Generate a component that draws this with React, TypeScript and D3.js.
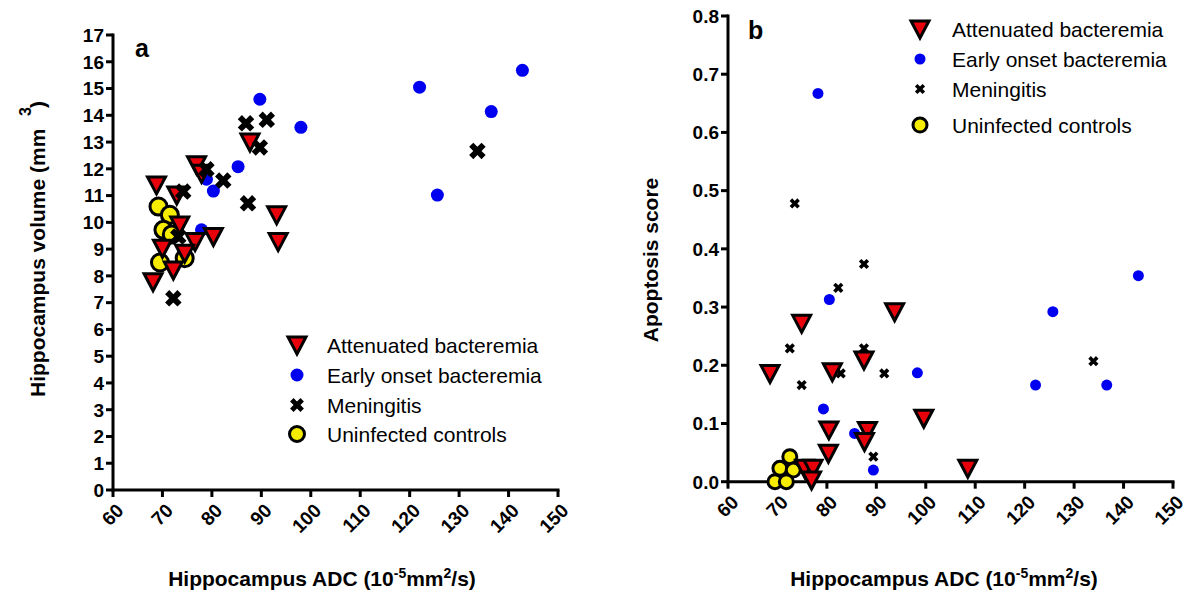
import React from "react";
import * as d3 from "d3";

// ---------- data ----------
type Pt = [number, number];

// Panel a: Hippocampus ADC vs volume
const aAttenuated: Pt[] = [
  [87.7, 13.0], [76.9, 12.15], [77.9, 11.83], [68.8, 11.4], [72.9, 11.02], [73.5, 9.9],
  [76.6, 9.28], [80.3, 9.47], [70.0, 9.03], [74.5, 8.85], [72.2, 8.22], [68.1, 7.78],
  [93.1, 10.28], [93.4, 9.28],
];
const aEarly: Pt[] = [
  [85.3, 12.08], [78.9, 11.61], [80.3, 11.17], [77.9, 9.72], [89.7, 14.6], [98.0, 13.55],
  [122.0, 15.05], [142.8, 15.68], [136.5, 14.14], [125.6, 11.02],
];
const aMeningitis: Pt[] = [
  [91.1, 13.83], [86.9, 13.7], [89.7, 12.8], [133.7, 12.67], [82.3, 11.56], [78.9, 11.98],
  [74.2, 11.15], [87.3, 10.71], [73.2, 9.47], [72.2, 7.16],
];
const aControls: Pt[] = [
  [69.2, 10.59], [71.5, 10.28], [70.2, 9.72], [71.9, 9.55], [69.5, 8.5], [74.5, 8.66],
];

// Panel b: Hippocampus ADC vs apoptosis score
const bAttenuated: Pt[] = [
  [74.9, 0.272], [93.7, 0.292], [68.5, 0.186], [81.1, 0.189], [87.5, 0.209], [80.4, 0.089],
  [80.3, 0.049], [88.2, 0.088], [87.6, 0.069], [99.6, 0.109], [75.5, 0.023], [77.2, 0.023],
  [76.9, 0.003], [108.5, 0.023],
];
const bEarly: Pt[] = [
  [78.2, 0.667], [80.5, 0.313], [98.3, 0.187], [79.3, 0.125], [85.6, 0.083], [89.4, 0.02],
  [125.7, 0.292], [143.0, 0.354], [122.2, 0.166], [136.6, 0.166],
];
const bMeningitis: Pt[] = [
  [73.5, 0.478], [82.3, 0.333], [87.5, 0.374], [72.5, 0.229], [74.9, 0.166], [82.8, 0.186],
  [87.5, 0.229], [91.6, 0.186], [89.4, 0.043], [133.9, 0.207],
];
const bControls: Pt[] = [
  [72.5, 0.043], [70.5, 0.023], [73.2, 0.02], [69.5, 0.0], [71.8, 0.0],
];

const xTicks = [60, 70, 80, 90, 100, 110, 120, 130, 140, 150];
const aYTicks = d3.range(0, 18);
const bYTicks = [0, 0.1, 0.2, 0.3, 0.4, 0.5, 0.6, 0.7, 0.8];
const legendLabels = ["Attenuated bacteremia", "Early onset bacteremia", "Meningitis", "Uninfected controls"];

const FONT = "'Liberation Sans', Arial, Helvetica, sans-serif";

// ---------- markers ----------
function Tri({ x, y, s = 1 }: { x: number; y: number; s?: number }) {
  const w = 9 * s, h = 8 * s;
  const d = `M${x - w},${y - h}L${x + w},${y - h}L${x},${y + h + 1}Z`;
  return <path d={d} fill="#e8000b" stroke="#000" strokeWidth={3} strokeLinejoin="miter" />;
}
function Dot({ x, y, r }: { x: number; y: number; r: number }) {
  return <circle cx={x} cy={y} r={r} fill="#0000f0" />;
}
function Cross({ x, y, size }: { x: number; y: number; size: number }) {
  const d = d3.symbol(d3.symbolCross, size)() as string;
  return <path d={d} transform={`translate(${x},${y}) rotate(45)`} fill="#000" />;
}
function Ctrl({ x, y, r }: { x: number; y: number; r: number }) {
  return <circle cx={x} cy={y} r={r} fill="#f5ec00" stroke="#000" strokeWidth={3} />;
}

interface PanelProps {
  x0: number; x1: number; y0: number; y1: number;
  yDomain: [number, number]; yTicks: number[]; yFmt: (v: number) => string;
  att: Pt[]; early: Pt[]; men: Pt[]; ctrl: Pt[];
  dotR: number; crossSize: number; ctrlR: number;
}

function Panel(p: PanelProps) {
  const xs = d3.scaleLinear().domain([60, 150]).range([p.x0, p.x1]);
  const ys = d3.scaleLinear().domain(p.yDomain).range([p.y0, p.y1]);
  return (
    <g>
      {/* axes */}
      <line x1={p.x0} x2={p.x1 + 1.5} y1={p.y0} y2={p.y0} stroke="#000" strokeWidth={3} />
      <line x1={p.x0} x2={p.x0} y1={p.y0 + 1.5} y2={p.y1 - 1.5} stroke="#000" strokeWidth={3} />
      {xTicks.map((t) => (
        <g key={"xt" + t}>
          <line x1={xs(t)} x2={xs(t)} y1={p.y0} y2={p.y0 + 7} stroke="#000" strokeWidth={3} />
          <text
            transform={`translate(${xs(t) + 7},${p.y0 + 17}) rotate(-45)`}
            textAnchor="end"
            dy="0.35em"
            fontSize={19}
            fontWeight="bold"
            fontFamily={FONT}
          >
            {t}
          </text>
        </g>
      ))}
      {p.yTicks.map((t) => (
        <g key={"yt" + t}>
          <line x1={p.x0 - 7} x2={p.x0} y1={ys(t)} y2={ys(t)} stroke="#000" strokeWidth={3} />
          <text x={p.x0 - 9} y={ys(t)} dy="0.36em" textAnchor="end" fontSize={19} fontWeight="bold" fontFamily={FONT}>
            {p.yFmt(t)}
          </text>
        </g>
      ))}
      {/* data */}
      {p.ctrl.map((d, i) => <Ctrl key={"c" + i} x={xs(d[0])} y={ys(d[1])} r={p.ctrlR} />)}
      {p.early.map((d, i) => <Dot key={"e" + i} x={xs(d[0])} y={ys(d[1])} r={p.dotR} />)}
      {p.att.map((d, i) => <Tri key={"a" + i} x={xs(d[0])} y={ys(d[1])} />)}
      {p.men.map((d, i) => <Cross key={"m" + i} x={xs(d[0])} y={ys(d[1])} size={p.crossSize} />)}
    </g>
  );
}

function Legend({ mx, tx, rows, dotR, crossSize, ctrlR }: { mx: number; tx: number; rows: number[]; dotR: number; crossSize: number; ctrlR: number }) {
  return (
    <g fontFamily={FONT} fontSize={21}>
      <Tri x={mx} y={rows[0]} />
      <Dot x={mx} y={rows[1]} r={dotR} />
      <Cross x={mx} y={rows[2]} size={crossSize} />
      <Ctrl x={mx} y={rows[3]} r={ctrlR} />
      {legendLabels.map((l, i) => (
        <text key={l} x={tx} y={rows[i]} dy="0.36em">{l}</text>
      ))}
    </g>
  );
}

function XTitle({ cx, y }: { cx: number; y: number }) {
  return (
    <text x={cx} y={y} textAnchor="middle" fontSize={21} fontWeight="bold" fontFamily={FONT}>
      Hippocampus ADC (10
      <tspan dy={-8} fontSize={14}>-5</tspan>
      <tspan dy={8}>mm</tspan>
      <tspan dy={-8} fontSize={14}>2</tspan>
      <tspan dy={8}>/s)</tspan>
    </text>
  );
}

export default function App() {
  return (
    <svg width={1200} height={602} style={{ position: "absolute", left: 0, top: 0, background: "#fff" }}>
      <rect width={1200} height={602} fill="#fff" />
      <Panel
        x0={113} x1={558} y0={490} y1={35}
        yDomain={[0, 17]} yTicks={aYTicks} yFmt={(v) => String(v)}
        att={aAttenuated} early={aEarly} men={aMeningitis} ctrl={aControls}
        dotR={6.5} crossSize={170} ctrlR={8.5}
      />
      <Panel
        x0={728} x1={1173} y0={481.7} y1={16}
        yDomain={[0, 0.8]} yTicks={bYTicks} yFmt={(v) => v.toFixed(1)}
        att={bAttenuated} early={bEarly} men={bMeningitis} ctrl={bControls}
        dotR={5.5} crossSize={65} ctrlR={7}
      />
      {/* panel labels */}
      <text x={135} y={57} fontSize={25} fontWeight="bold" fontFamily={FONT}>a</text>
      <text x={748} y={39} fontSize={25} fontWeight="bold" fontFamily={FONT}>b</text>
      {/* legends */}
      <Legend mx={297} tx={327} rows={[345, 375, 405, 434]} dotR={6.5} crossSize={120} ctrlR={7.5} />
      <Legend mx={920} tx={952} rows={[29, 59, 89, 125]} dotR={5.5} crossSize={65} ctrlR={7} />
      {/* y titles */}
      <text transform="translate(45,397) rotate(-90)" fontSize={21} fontWeight="bold" fontFamily={FONT}>
        Hippocampus volume (mm
      </text>
      <text transform="translate(31,116) rotate(-90)" fontSize={16} fontWeight="bold" fontFamily={FONT}>3</text>
      <text transform="translate(45,108) rotate(-90)" fontSize={21} fontWeight="bold" fontFamily={FONT}>)</text>
      <text transform="translate(658,260) rotate(-90)" textAnchor="middle" fontSize={21} fontWeight="bold" fontFamily={FONT}>
        Apoptosis score
      </text>
      {/* x titles */}
      <XTitle cx={322} y={586} />
      <XTitle cx={944} y={586} />
    </svg>
  );
}
